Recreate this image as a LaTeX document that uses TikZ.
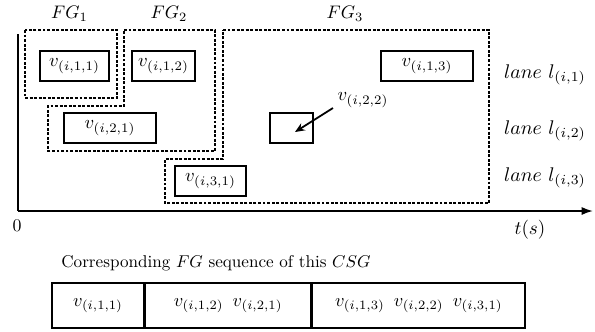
\documentclass[tikz,border=0pt]{standalone}
\usepackage{graphicx}
\usetikzlibrary{arrows.meta}
\newcommand\szbox[2]{\scalebox{#1}{#2}}
\begin{document}
\begin{tikzpicture}[x=0.617pt,y=-0.617pt,
  vbox/.style={draw,line width=1.2pt,minimum height=30*0.617pt,inner sep=0pt},
  fg/.style={draw,dash pattern=on 1.8pt off 1pt,line width=0.7pt},
  seqcell/.style={draw,line width=1pt,minimum height=45*0.617pt,inner sep=0pt},
  lbl/.style={inner sep=1pt}]
\useasboundingbox (0,0) rectangle (595,331);
% axes
\coordinate (o) at (18,211);
\coordinate (ytop) at (18,34);
\coordinate (xend) at (593,211);
\draw[line width=1.1pt] (ytop) -- (o);
\draw[line width=1.1pt,-{Latex[length=7pt,width=5pt]}] (o) -- (xend);
\node[lbl] (zero) at (17,226) {\szbox{1.1}{$0$}};
\node[lbl] (ts) at (530,230) {\szbox{1.18}{$t(s)$}};
% flow groups
\draw[fg] (25,30) rectangle (117,98);
\draw[fg] (124,30) -- (215,30) -- (215,151) -- (48,151) -- (48,106) -- (124,106) -- cycle;
\draw[fg] (223,30) -- (489,30) -- (489,203) -- (165,203) -- (165,159) -- (223,159) -- cycle;
\node[lbl] (fg1) at (69.5,14) {\szbox{1.12}{$FG_1$}};
\node[lbl] (fg2) at (169,14) {\szbox{1.12}{$FG_2$}};
\node[lbl] (fg3) at (345,14) {\szbox{1.12}{$FG_3$}};
% vehicles
\node[vbox,minimum width=69*0.617pt] (v111) at (74.5,66) {\szbox{1.15}{$v_{(i,1,1)}$}};
\node[vbox,minimum width=63*0.617pt] (v112) at (163.5,66) {\szbox{1.15}{$v_{(i,1,2)}$}};
\node[vbox,minimum width=92*0.617pt] (v113) at (427,66) {\szbox{1.15}{$v_{(i,1,3)}$}};
\node[vbox,minimum width=92*0.617pt] (v121) at (110,128) {\szbox{1.15}{$v_{(i,2,1)}$}};
\node[vbox,minimum width=43*0.617pt] (v122) at (291.5,128) {};
\node[lbl] (v122l) at (363,100) {\szbox{1.15}{$v_{(i,2,2)}$}};
\node[vbox,minimum width=71*0.617pt] (v131) at (210.5,181) {\szbox{1.15}{$v_{(i,3,1)}$}};
\coordinate (arrs) at (333,108);
\coordinate (arre) at (295,132);
\draw[line width=1.1pt,-{Stealth[length=6pt,width=5pt]}] (arrs) -- (arre);
% lanes
\node[lbl] (l1) at (545,75) {\szbox{1.22}{$lane\ l_{(i,1)}$}};
\node[lbl] (l2) at (545,131) {\szbox{1.22}{$lane\ l_{(i,2)}$}};
\node[lbl] (l3) at (545,178) {\szbox{1.22}{$lane\ l_{(i,3)}$}};
% sequence
\node[lbl] (title) at (216,263) {\szbox{1.055}{Corresponding $FG$ sequence of this $CSG$}};
\node[seqcell,minimum width=92*0.617pt] (s1) at (98,305.5) {\szbox{1.13}{$v_{(i,1,1)}$}};
\node[seqcell,minimum width=165*0.617pt,anchor=west] (s2) at (s1.east) {\szbox{1.13}{$v_{(i,1,2)}\ \, v_{(i,2,1)}$}};
\node[seqcell,minimum width=213*0.617pt,anchor=west] (s3) at (s2.east) {\szbox{1.13}{$v_{(i,1,3)}\ \, v_{(i,2,2)}\ \, v_{(i,3,1)}$}};
\end{tikzpicture}
\end{document}
